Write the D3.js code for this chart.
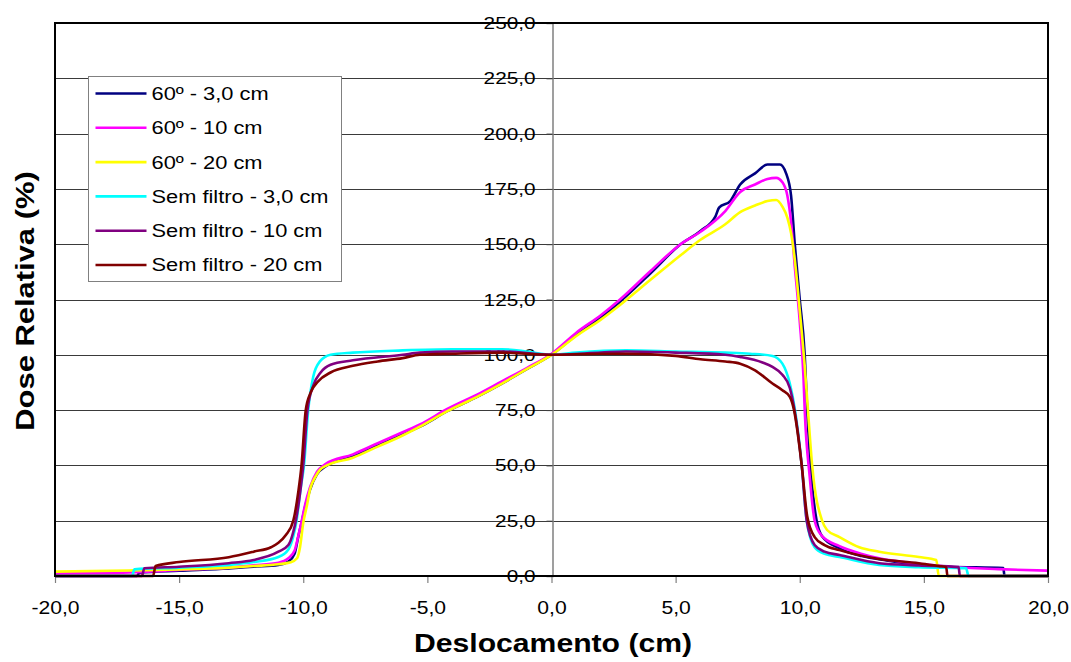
<!DOCTYPE html>
<html>
<head>
<meta charset="utf-8">
<script src="https://cdn.jsdelivr.net/npm/d3@7"></script>
<style>
  html, body { margin: 0; padding: 0; background: #fff; }
  svg { display: block; font-family: "Liberation Sans", Arial, sans-serif; }
</style>
</head>
<body>
<svg id="chart" width="1071" height="662"></svg>
<script>
// ---------------- DATA ----------------
const seriesNames = ["60º - 3,0 cm", "60º - 10 cm", "60º - 20 cm",
  "Sem filtro - 3,0 cm", "Sem filtro - 10 cm", "Sem filtro - 20 cm"];
const seriesColors = ["#000080", "#FF00FF", "#FFFF00", "#00FFFF", "#800080", "#800000"];

const xTicks = [-20, -15, -10, -5, 0, 5, 10, 15, 20];
const yTicks = [0, 25, 50, 75, 100, 125, 150, 175, 200, 225, 250];

// 60º - 3,0 cm
const wedge3x = [-20, -16.7, -16.6, -15, -13, -12, -11, -10.6, -10.35, -10.2, -10.05, -9.93, -9.73, -9.45, -9.12, -8, -7, -6, -5.3, -4.2, -3, -2, -1, 0, 1, 2, 2.76, 4, 5.2, 6, 6.6, 6.75, 7.2, 7.6, 8.2, 8.7, 9.2, 9.45, 9.65, 9.8, 10.0, 10.2, 10.3, 10.48, 10.68, 10.9, 11.6, 12.5, 13.5, 14.8, 16, 18.2, 18.25, 20];
const wedge3y = [0, 0, 1.5, 2.4, 3.4, 4.2, 5, 6.5, 10, 17.8, 25, 31, 39, 46, 49.4, 54, 59, 64, 67.5, 74.5, 81, 87, 93.5, 100, 109, 117, 124, 137, 150, 156, 162.5, 166.5, 169.5, 177, 182, 186, 186, 182, 172, 150, 125, 100, 75, 43, 25, 18, 12.5, 9, 7, 5, 4.2, 3.6, 0, 0];

// 60º - 10 cm
const wedge10x = [-20, -17, -15, -13, -12, -11, -10.6, -10.35, -10.2, -10.05, -9.93, -9.73, -9.45, -9.12, -8, -7, -6, -5.3, -4.2, -3, -2, -1, 0, 1, 2, 2.76, 4, 5.2, 6, 7, 7.6, 8.2, 8.7, 9.05, 9.3, 9.5, 9.65, 9.8, 10.0, 10.15, 10.2, 10.4, 10.6, 10.9, 11.6, 12.5, 13.2, 14.8, 16, 18, 20];
const wedge10y = [1.2, 1.6, 2.7, 3.8, 4.8, 6, 8, 11.5, 18, 25.5, 32, 40, 47, 50.5, 55, 60, 65, 68.5, 75.5, 82, 88, 94, 100.5, 110, 118, 125, 138, 150, 155.6, 165, 173.6, 177, 179.5, 180, 178, 172, 160, 140, 115, 90, 75, 45, 25, 18, 13.5, 10, 8, 5.5, 4.2, 3.1, 2.4];

// 60º - 20 cm
const wedge20x = [-20, -17, -15, -13, -12, -11, -10.5, -10.25, -10.13, -10.0, -9.85, -9.73, -9.5, -9.33, -9.05, -8, -7, -6, -5.3, -4.2, -3, -2, -1, 0, 1, 2, 2.76, 4, 5.2, 6, 7, 7.6, 8.2, 8.7, 9.05, 9.3, 9.5, 9.65, 9.8, 10.0, 10.2, 10.33, 10.5, 10.9, 11.1, 11.6, 12.4, 13.2, 14.8, 15.5, 15.6, 20];
const wedge20y = [2, 2.5, 3, 3.8, 4.5, 5.3, 6.2, 8, 13, 24, 32, 39, 45, 48, 50, 53.5, 58.5, 63.5, 67.5, 74.5, 81, 87, 93.5, 100, 108.5, 116, 122.5, 134, 145, 152, 159, 164.5, 167.5, 169.5, 170, 167, 162, 155, 143, 120, 95, 75, 50, 25, 20.8, 17.6, 13, 11, 8.6, 7.2, 0, 0];

// Sem filtro - 3,0 cm
const open3x = [-20, -16.9, -16.8, -15, -13, -12, -11, -10.6, -10.4, -10.27, -10.1, -9.97, -9.8, -9.6, -9.33, -8.9, -8, -6, -4, -2, -1, 0, 1, 3, 5, 7, 8, 8.9, 9.3, 9.6, 9.81, 10.08, 10.28, 10.6, 11, 11.6, 13.2, 14.8, 16.7, 16.8, 20];
const open3y = [0, 0, 3, 3.8, 5, 6.3, 8.6, 12, 18, 25, 40, 50, 75, 90, 97, 100, 101, 102, 102.5, 102.5, 101.5, 100, 101, 102, 101.5, 101, 100.5, 99.5, 96, 87, 75, 50, 25, 13, 10, 8.6, 5, 4, 3.5, 0, 0];

// Sem filtro - 10 cm
const open10x = [-20, -16.5, -16.4, -15, -13, -12, -11, -10.6, -10.4, -10.3, -10.1, -10.0, -9.83, -9.6, -9.3, -8.9, -8, -6, -5.3, -4, -2, 0, 2, 3, 5, 7, 7.6, 8.5, 8.9, 9.3, 9.6, 9.79, 10.08, 10.28, 10.6, 11, 11.6, 13.2, 14.8, 16.4, 16.45, 20];
const open10y = [0, 0, 3.5, 4.2, 5.8, 7.2, 11, 14, 20, 25, 40, 50, 75, 86, 92, 95.5, 97.5, 100, 101, 101.5, 101.5, 100, 101, 101.5, 101, 100, 99, 96.5, 94.5, 91, 85, 75, 50, 25, 14, 11, 9.5, 5.8, 4.8, 4, 0, 0];

// Sem filtro - 20 cm
const open20x = [-20, -16.05, -15.95, -15, -13, -12, -11.3, -11, -10.7, -10.4, -10.2, -10.07, -9.9, -9.7, -9.4, -8.9, -8, -7, -6, -5.3, -4, -2, 0, 2, 3, 5, 6, 7, 7.6, 8.2, 8.9, 9.3, 9.6, 9.77, 10.08, 10.3, 10.6, 11, 11.6, 13.2, 14.8, 15.6, 15.9, 15.95, 20];
const open20y = [0, 0, 4.5, 6.3, 8.5, 11, 13, 15, 18.5, 25, 38, 50, 75, 83, 88, 92, 95, 97, 98.5, 100, 100.5, 101, 100, 100.5, 100.5, 99.5, 98, 97, 96, 93, 87, 84, 81, 75, 50, 27, 17.6, 14, 11.7, 7.7, 5.8, 4.5, 4, 0, 0];

const seriesX = [wedge3x, wedge10x, wedge20x, open3x, open10x, open20x];
const seriesY = [wedge3y, wedge10y, wedge20y, open3y, open10y, open20y];

// ---------------- LAYOUT ----------------
const svg = d3.select("#chart");
const plot = { left: 55, right: 1048, top: 23, bottom: 576 };
const STRETCH = 1.2;

const x = d3.scaleLinear().domain([-20, 20]).range([plot.left, plot.right]);
const y = d3.scaleLinear().domain([0, 250]).range([plot.bottom, plot.top]);
const fmt = v => v.toFixed(1).replace(".", ",");

// gridlines
svg.append("g").selectAll("line").data(yTicks.slice(1, -1)).join("line")
  .attr("x1", plot.left).attr("x2", plot.right)
  .attr("y1", d => Math.round(y(d)) + 0.5).attr("y2", d => Math.round(y(d)) + 0.5)
  .attr("stroke", "#3a3a3a").attr("stroke-width", 1);

// y axis at x = 0
const yAxis = svg.append("g")
  .attr("transform", `translate(${Math.round(x(0)) + 0.5},0)`)
  .call(d3.axisLeft(y).tickValues(yTicks).tickFormat(fmt).tickSize(6).tickPadding(11));
yAxis.select(".domain").attr("stroke", "#808080").attr("stroke-width", 1.5);
yAxis.selectAll(".tick line").attr("stroke", "#404040");
yAxis.selectAll(".tick text")
  .attr("font-size", 17.3).attr("fill", "#000")
  .attr("font-family", "Liberation Sans, Arial, sans-serif")
  .attr("x", -17 / STRETCH)
  .attr("transform", `scale(${STRETCH},1)`);

// x axis at bottom
const xAxis = svg.append("g")
  .attr("transform", `translate(0,${plot.bottom})`)
  .call(d3.axisBottom(x).tickValues(xTicks).tickFormat(fmt).tickSize(7).tickPadding(19));
xAxis.select(".domain").remove();
xAxis.selectAll(".tick line").attr("stroke", "#808080").attr("stroke-width", 1.2);
xAxis.selectAll(".tick text")
  .attr("font-size", 17.6).attr("fill", "#000")
  .attr("font-family", "Liberation Sans, Arial, sans-serif")
  .attr("transform", `scale(${STRETCH},1)`);

// series
const line = d3.line().x(d => x(d[0])).y(d => y(d[1])).curve(d3.curveMonotoneX);
const gSeries = svg.append("g");
seriesX.forEach((xs, i) => {
  const pts = xs.map((v, j) => [v, seriesY[i][j]]);
  gSeries.append("path").datum(pts)
    .attr("d", line)
    .attr("fill", "none")
    .attr("stroke", seriesColors[i])
    .attr("stroke-width", 2.6)
    .attr("stroke-linejoin", "round");
});

// plot border
svg.append("rect")
  .attr("x", plot.left).attr("y", plot.top)
  .attr("width", plot.right - plot.left).attr("height", plot.bottom - plot.top)
  .attr("fill", "none").attr("stroke", "#000").attr("stroke-width", 2);

// legend
const leg = svg.append("g").attr("transform", "translate(88.5,76.5)");
leg.append("rect").attr("width", 253).attr("height", 205)
  .attr("fill", "#fff").attr("stroke", "#808080").attr("stroke-width", 1);
seriesNames.forEach((name, i) => {
  const yy = 17 + i * 34.3;
  leg.append("line").attr("x1", 7).attr("x2", 58).attr("y1", yy).attr("y2", yy)
    .attr("stroke", seriesColors[i]).attr("stroke-width", 2.6);
  leg.append("text")
    .attr("transform", `translate(63,${yy}) scale(1.18,1)`)
    .attr("dy", "0.35em")
    .attr("font-size", 18.5).attr("fill", "#000").text(name);
});

// axis titles
svg.append("text")
  .attr("transform", "translate(553,652) scale(1.16,1)")
  .attr("text-anchor", "middle").attr("font-size", 26).attr("font-weight", "bold")
  .text("Deslocamento (cm)");
svg.append("text")
  .attr("transform", "translate(34,301) rotate(-90) scale(1.19,1)")
  .attr("text-anchor", "middle").attr("font-size", 26).attr("font-weight", "bold")
  .text("Dose Relativa (%)");
</script>
</body>
</html>
